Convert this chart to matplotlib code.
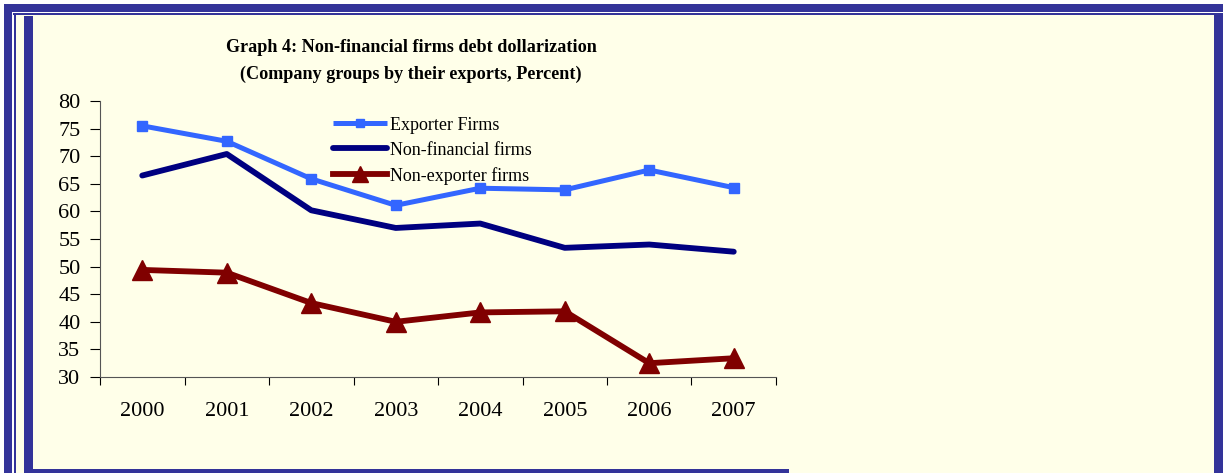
import matplotlib
matplotlib.use("Agg")
import matplotlib.pyplot as plt
from matplotlib.patches import Rectangle
import numpy as np

years = ["2000", "2001", "2002", "2003", "2004", "2005", "2006", "2007"]
exporter = [75.5, 72.7, 65.9, 61.1, 64.2, 63.9, 67.5, 64.3]
nonfinancial = [66.5, 70.4, 60.2, 57.0, 57.8, 53.4, 54.0, 52.7]
nonexporter = [49.4, 48.9, 43.4, 40.0, 41.7, 41.9, 32.5, 33.4]

W, H = 1223, 473
bg = "#FFFFE9"
frame = "#333399"

fig = plt.figure(figsize=(W / 100, H / 100), dpi=100)
fig.patch.set_facecolor(bg)

def rect(x0, y0, x1, y1, color):
    # pixel coords from top-left
    fig.patches.append(Rectangle((x0 / W, 1 - y1 / H), (x1 - x0) / W, (y1 - y0) / H,
                                 transform=fig.transFigure, facecolor=color,
                                 edgecolor="none", zorder=0))

# white surround
rect(0, 0, W, 4, "white")
rect(0, 0, 4, H, "white")
rect(12, 12, W, 13, "white")
rect(12, 12, 13.5, H, "white")
# outer frame
rect(4, 4, W, 12, frame)
rect(4, 4, 12, H, frame)
rect(13, 13, W, 15.5, frame)
rect(13.5, 13, 15.5, H, frame)
# inner thick bars
rect(24, 16, 33, H, frame)
rect(24, 469, 789, H, frame)
rect(1214, 15, W, H, frame)

ax = fig.add_axes([100 / W, 1 - 377 / H, 676 / W, 276 / H])
ax.set_facecolor("none")

x = np.arange(len(years))
ax.plot(x, exporter, color="#3366FF", lw=3.6, marker="s", ms=7.5, label="Exporter Firms",
        solid_capstyle="butt")
ax.plot(x, nonfinancial, color="#000080", lw=4.2, label="Non-financial firms",
        solid_capstyle="round")
ax.plot(x, nonexporter, color="#800000", lw=4.2, marker="^", ms=15, label="Non-exporter firms")

ax.set_xlim(-0.5, len(years) - 0.5)
ax.set_ylim(30, 80)
ax.set_yticks(np.arange(30, 81, 5))
ax.set_xticks(np.arange(-0.5, len(years), 1.0))
ax.set_xticklabels([])
ax.set_xticks(x, minor=True)
ax.set_xticklabels(years, minor=True)
ax.tick_params(axis="x", which="major", direction="out", length=6, color="black")
ax.tick_params(axis="x", which="minor", length=0, pad=18, labelsize=16)
ax.tick_params(axis="y", direction="out", length=7, labelsize=16, pad=7)
for lab in ax.get_xticklabels(minor=True) + ax.get_yticklabels():
    lab.set_fontfamily("Liberation Serif")
ax.spines["top"].set_visible(False)
ax.spines["right"].set_visible(False)
ax.spines["left"].set_color("#555555")
ax.spines["bottom"].set_color("#555555")

leg = ax.legend(loc="upper left", bbox_to_anchor=(0.334, 0.97), frameon=False,
                prop={"family": "Liberation Serif", "size": 13}, handlelength=3.0,
                handletextpad=0.15, labelspacing=0.45, borderaxespad=0, markerscale=0.75)

fig.text(411 / W, 1 - 48 / H, "Graph 4: Non-financial firms debt dollarization",
         ha="center", va="center", fontfamily="Liberation Serif", fontweight="bold", fontsize=13.1)
fig.text(411 / W, 1 - 74 / H, "(Company groups by their exports, Percent)",
         ha="center", va="center", fontfamily="Liberation Serif", fontweight="bold", fontsize=13.1)

fig.savefig("out.png", dpi=100, facecolor=fig.get_facecolor())
